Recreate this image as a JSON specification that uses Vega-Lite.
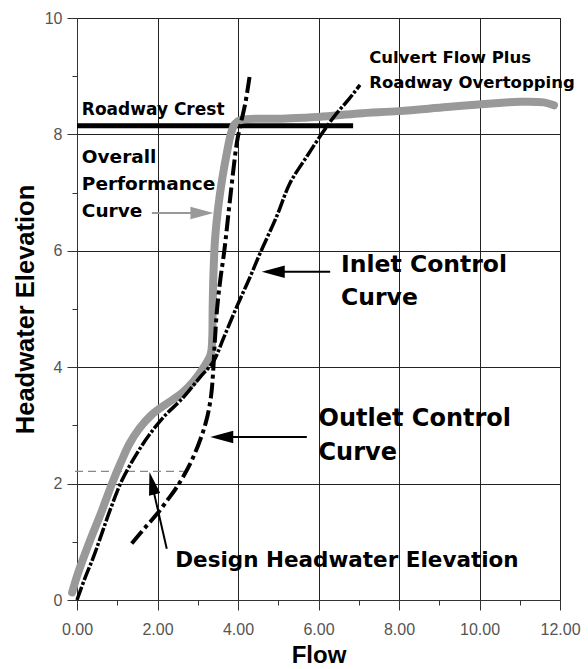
{
  "$schema": "https://vega.github.io/schema/vega-lite/v6.json",
  "width": 483,
  "height": 582,
  "autosize": {"type": "none"},
  "padding": {"left": 77, "top": 18, "right": 28, "bottom": 69},
  "background": "white",
  "config": {"view": {"stroke": "#333", "strokeWidth": 1}},
  "datasets": {
    "perf": [
      {"i": 1, "x": -0.12, "y": 0.13}, {"i": 2, "x": 0.02, "y": 0.45}, {"i": 3, "x": 0.3, "y": 0.98},
      {"i": 4, "x": 0.6, "y": 1.5}, {"i": 5, "x": 0.87, "y": 2.0}, {"i": 6, "x": 1.1, "y": 2.38},
      {"i": 7, "x": 1.3, "y": 2.68}, {"i": 8, "x": 1.55, "y": 2.95}, {"i": 9, "x": 1.85, "y": 3.18},
      {"i": 10, "x": 2.2, "y": 3.36}, {"i": 11, "x": 2.6, "y": 3.55}, {"i": 12, "x": 2.9, "y": 3.76},
      {"i": 13, "x": 3.15, "y": 4.0}, {"i": 14, "x": 3.32, "y": 4.22}, {"i": 15, "x": 3.36, "y": 4.5},
      {"i": 16, "x": 3.37, "y": 5.0}, {"i": 17, "x": 3.39, "y": 5.6}, {"i": 18, "x": 3.43, "y": 6.2},
      {"i": 19, "x": 3.5, "y": 6.7}, {"i": 20, "x": 3.6, "y": 7.2}, {"i": 21, "x": 3.72, "y": 7.67},
      {"i": 22, "x": 3.82, "y": 8.0}, {"i": 23, "x": 3.92, "y": 8.18}, {"i": 24, "x": 4.08, "y": 8.25},
      {"i": 25, "x": 5.0, "y": 8.27}, {"i": 26, "x": 6.0, "y": 8.3}, {"i": 27, "x": 7.0, "y": 8.36},
      {"i": 28, "x": 8.0, "y": 8.4}, {"i": 29, "x": 9.2, "y": 8.47}, {"i": 30, "x": 10.3, "y": 8.53},
      {"i": 31, "x": 11.0, "y": 8.56}, {"i": 32, "x": 11.6, "y": 8.55}, {"i": 33, "x": 11.85, "y": 8.5}
    ],
    "inlet": [
      {"i": 1, "x": 0, "y": 0}, {"i": 2, "x": 0.2, "y": 0.38}, {"i": 3, "x": 0.41, "y": 0.74},
      {"i": 4, "x": 0.62, "y": 1.15}, {"i": 5, "x": 0.83, "y": 1.56}, {"i": 6, "x": 1.12, "y": 2.06},
      {"i": 7, "x": 1.49, "y": 2.52}, {"i": 8, "x": 1.82, "y": 2.86}, {"i": 9, "x": 2.2, "y": 3.18},
      {"i": 10, "x": 2.6, "y": 3.45}, {"i": 11, "x": 3.06, "y": 3.83}, {"i": 12, "x": 3.39, "y": 4.1},
      {"i": 13, "x": 3.64, "y": 4.5}, {"i": 14, "x": 3.97, "y": 5.04}, {"i": 15, "x": 4.3, "y": 5.55},
      {"i": 16, "x": 4.55, "y": 5.96}, {"i": 17, "x": 4.96, "y": 6.59}, {"i": 18, "x": 5.29, "y": 7.16},
      {"i": 19, "x": 5.71, "y": 7.62}, {"i": 20, "x": 6.12, "y": 8.05}, {"i": 21, "x": 6.45, "y": 8.36},
      {"i": 22, "x": 6.75, "y": 8.6}, {"i": 23, "x": 7.03, "y": 8.85}
    ],
    "outlet": [
      {"i": 1, "x": 1.36, "y": 0.97}, {"i": 2, "x": 1.7, "y": 1.25}, {"i": 3, "x": 1.99, "y": 1.48},
      {"i": 4, "x": 2.25, "y": 1.72}, {"i": 5, "x": 2.48, "y": 1.94}, {"i": 6, "x": 2.81, "y": 2.34},
      {"i": 7, "x": 3.06, "y": 2.75}, {"i": 8, "x": 3.22, "y": 3.1}, {"i": 9, "x": 3.33, "y": 3.5},
      {"i": 10, "x": 3.38, "y": 3.9}, {"i": 11, "x": 3.42, "y": 4.4}, {"i": 12, "x": 3.48, "y": 5.0},
      {"i": 13, "x": 3.56, "y": 5.5}, {"i": 14, "x": 3.66, "y": 6.0}, {"i": 15, "x": 3.8, "y": 6.87},
      {"i": 16, "x": 3.97, "y": 7.85}, {"i": 17, "x": 4.05, "y": 8.13}, {"i": 18, "x": 4.18, "y": 8.53},
      {"i": 19, "x": 4.3, "y": 9.05}
    ],
    "crest": [{"x": 0, "y": 8.15, "x2": 6.86}],
    "design": [{"x": -0.05, "y": 2.21, "x2": 2.65}],
    "blackArrows": [
      {"name": "inlet", "x": 6.29, "y": 5.64, "x2": 4.7, "y2": 5.64},
      {"name": "outlet", "x": 5.71, "y": 2.8, "x2": 3.45, "y2": 2.8},
      {"name": "design", "x": 2.23, "y": 0.88, "x2": 1.84, "y2": 2.06}
    ],
    "grayArrow": [{"x": 1.86, "y": 6.65, "x2": 3.3, "y2": 6.65}],
    "headsLeft": [{"x": 4.59, "y": 5.64}, {"x": 3.31, "y": 2.8}],
    "headsRight": [{"x": 3.39, "y": 6.65}],
    "headsUp": [{"x": 1.8, "y": 2.2}]
  },
  "layer": [
    {
      "data": {"name": "crest"},
      "mark": {"type": "rule", "color": "#000", "strokeWidth": 5},
      "encoding": {
        "x": {"field": "x", "type": "quantitative",
          "scale": {"domain": [0, 12], "nice": false, "zero": false},
          "axis": {
            "values": [0, 1, 2, 3, 4, 5, 6, 7, 8, 9, 10, 11, 12],
            "labelExpr": "datum.value % 2 === 0 ? format(datum.value, '.2f') : ''",
            "tickSize": {"condition": {"test": "datum.value % 2 === 0", "value": 10}, "value": 5},
            "gridOpacity": {"condition": {"test": "datum.value % 2 === 0", "value": 1}, "value": 0},
            "grid": true, "gridColor": "#222", "gridWidth": 1,
            "tickColor": "#333", "domainColor": "#333",
            "labelFont": "Liberation Sans", "labelFontSize": 16, "labelColor": "#555",
            "labelPadding": 11, "labelFlush": false, "labelOverlap": false,
            "title": "Flow", "titleFont": "Liberation Sans", "titleFontSize": 24,
            "titleFontWeight": "bold", "titleColor": "#000", "titlePadding": 6
          }},
        "x2": {"field": "x2"},
        "y": {"field": "y", "type": "quantitative",
          "scale": {"domain": [0, 10], "nice": false, "zero": false},
          "axis": {
            "values": [0, 1, 2, 3, 4, 5, 6, 7, 8, 9, 10],
            "labelExpr": "datum.value % 2 === 0 ? format(datum.value, 'd') : ''",
            "tickSize": {"condition": {"test": "datum.value % 2 === 0", "value": 10}, "value": 5},
            "gridOpacity": {"condition": {"test": "datum.value % 2 === 0", "value": 1}, "value": 0},
            "grid": true, "gridColor": "#222", "gridWidth": 1,
            "tickColor": "#333", "domainColor": "#333",
            "labelFont": "Liberation Sans", "labelFontSize": 16, "labelColor": "#555",
            "labelPadding": 5, "labelOverlap": false,
            "title": "Headwater Elevation", "titleFont": "Liberation Sans", "titleFontSize": 25.5,
            "titleFontWeight": "bold", "titleColor": "#000", "titlePadding": 6
          }}
      }
    },
    {
      "data": {"name": "design"},
      "mark": {"type": "rule", "color": "#888", "strokeWidth": 1.2, "strokeDash": [8, 5]},
      "encoding": {
        "x": {"field": "x", "type": "quantitative"},
        "x2": {"field": "x2"},
        "y": {"field": "y", "type": "quantitative"}
      }
    },
    {
      "data": {"name": "perf"},
      "mark": {"type": "line", "color": "#999", "strokeWidth": 8, "strokeCap": "round", "strokeJoin": "round", "interpolate": "catmull-rom"},
      "encoding": {
        "x": {"field": "x", "type": "quantitative"},
        "y": {"field": "y", "type": "quantitative"},
        "order": {"field": "i", "type": "quantitative"}
      }
    },
    {
      "data": {"name": "inlet"},
      "mark": {"type": "line", "color": "#000", "strokeWidth": 3.5, "strokeDash": [14, 2, 3, 2], "interpolate": "catmull-rom"},
      "encoding": {
        "x": {"field": "x", "type": "quantitative"},
        "y": {"field": "y", "type": "quantitative"},
        "order": {"field": "i", "type": "quantitative"}
      }
    },
    {
      "data": {"name": "outlet"},
      "mark": {"type": "line", "color": "#000", "strokeWidth": 4, "strokeDash": [16, 4, 4, 4], "interpolate": "catmull-rom"},
      "encoding": {
        "x": {"field": "x", "type": "quantitative"},
        "y": {"field": "y", "type": "quantitative"},
        "order": {"field": "i", "type": "quantitative"}
      }
    },
    {
      "data": {"name": "blackArrows"},
      "mark": {"type": "rule", "color": "#000", "strokeWidth": 2},
      "encoding": {
        "x": {"field": "x", "type": "quantitative"},
        "y": {"field": "y", "type": "quantitative"},
        "x2": {"field": "x2"},
        "y2": {"field": "y2"}
      }
    },
    {
      "data": {"name": "grayArrow"},
      "mark": {"type": "rule", "color": "#999", "strokeWidth": 2},
      "encoding": {
        "x": {"field": "x", "type": "quantitative"},
        "y": {"field": "y", "type": "quantitative"},
        "x2": {"field": "x2"},
        "y2": {"field": "y2"}
      }
    },
    {
      "data": {"name": "headsLeft"},
      "mark": {"type": "point", "shape": "M0,0L-2,-0.55L-2,0.55Z", "size": 529, "filled": true, "color": "#000", "opacity": 1, "angle": 180},
      "encoding": {
        "x": {"field": "x", "type": "quantitative"},
        "y": {"field": "y", "type": "quantitative"}
      }
    },
    {
      "data": {"name": "headsRight"},
      "mark": {"type": "point", "shape": "M0,0L-2,-0.55L-2,0.55Z", "size": 529, "filled": true, "color": "#999", "opacity": 1, "angle": 0},
      "encoding": {
        "x": {"field": "x", "type": "quantitative"},
        "y": {"field": "y", "type": "quantitative"}
      }
    },
    {
      "data": {"name": "headsUp"},
      "mark": {"type": "point", "shape": "M0,0L-2,-0.5L-2,0.5Z", "size": 529, "filled": true, "color": "#000", "opacity": 1, "angle": 257},
      "encoding": {
        "x": {"field": "x", "type": "quantitative"},
        "y": {"field": "y", "type": "quantitative"}
      }
    },
    {
      "data": {"values": [{"x": 0.12, "y": 8.33, "label": "Roadway Crest"}]},
      "mark": {"type": "text", "align": "left", "baseline": "alphabetic", "font": "DejaVu Sans", "fontWeight": "bold", "fontSize": 17, "color": "#000"},
      "encoding": {
        "x": {"field": "x", "type": "quantitative"},
        "y": {"field": "y", "type": "quantitative"},
        "text": {"field": "label"}
      }
    },
    {
      "data": {"values": [{"x": 0.12, "y": 7.51, "label": "Overall\nPerformance\nCurve"}]},
      "mark": {"type": "text", "align": "left", "baseline": "alphabetic", "font": "DejaVu Sans", "fontWeight": "bold", "fontSize": 18.5, "lineBreak": "\n", "lineHeight": 27, "color": "#000"},
      "encoding": {
        "x": {"field": "x", "type": "quantitative"},
        "y": {"field": "y", "type": "quantitative"},
        "text": {"field": "label"}
      }
    },
    {
      "data": {"values": [{"x": 7.26, "y": 9.22, "label": "Culvert Flow Plus\nRoadway Overtopping"}]},
      "mark": {"type": "text", "align": "left", "baseline": "alphabetic", "font": "DejaVu Sans", "fontWeight": "bold", "fontSize": 16.5, "lineBreak": "\n", "lineHeight": 25, "color": "#000"},
      "encoding": {
        "x": {"field": "x", "type": "quantitative"},
        "y": {"field": "y", "type": "quantitative"},
        "text": {"field": "label"}
      }
    },
    {
      "data": {"values": [{"x": 6.56, "y": 5.64, "label": "Inlet Control\nCurve"}]},
      "mark": {"type": "text", "align": "left", "baseline": "alphabetic", "font": "DejaVu Sans", "fontWeight": "bold", "fontSize": 23.5, "lineBreak": "\n", "lineHeight": 33.5, "color": "#000"},
      "encoding": {
        "x": {"field": "x", "type": "quantitative"},
        "y": {"field": "y", "type": "quantitative"},
        "text": {"field": "label"}
      }
    },
    {
      "data": {"values": [{"x": 6.0, "y": 2.99, "label": "Outlet Control\nCurve"}]},
      "mark": {"type": "text", "align": "left", "baseline": "alphabetic", "font": "DejaVu Sans", "fontWeight": "bold", "fontSize": 24, "lineBreak": "\n", "lineHeight": 34, "color": "#000"},
      "encoding": {
        "x": {"field": "x", "type": "quantitative"},
        "y": {"field": "y", "type": "quantitative"},
        "text": {"field": "label"}
      }
    },
    {
      "data": {"values": [{"x": 2.44, "y": 0.56, "label": "Design Headwater Elevation"}]},
      "mark": {"type": "text", "align": "left", "baseline": "alphabetic", "font": "DejaVu Sans", "fontWeight": "bold", "fontSize": 21.5, "color": "#000"},
      "encoding": {
        "x": {"field": "x", "type": "quantitative"},
        "y": {"field": "y", "type": "quantitative"},
        "text": {"field": "label"}
      }
    }
  ]
}
